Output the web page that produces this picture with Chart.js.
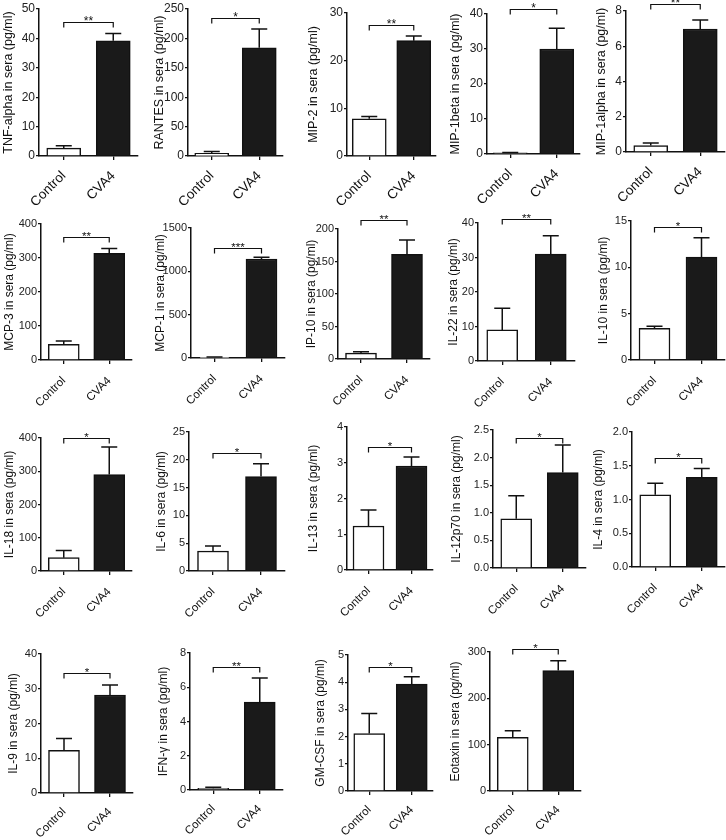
<!DOCTYPE html>
<html>
<head>
<meta charset="utf-8">
<script src="https://cdn.jsdelivr.net/npm/chart.js@4/dist/chart.umd.min.js"></script>
<style>
    body { margin: 0; background: #fff; }
    #figure { position: relative; width: 726px; height: 840px; overflow: hidden; background: #fff; }
    #figure canvas { position: absolute; }
</style>
</head>
<body>
<div id="figure"></div>
<script>
const cytokines = ['TNF-alpha', 'RANTES', 'MIP-2', 'MIP-1beta', 'MIP-1alpha',
    'MCP-3', 'MCP-1', 'IP-10', 'IL-22', 'IL-10',
    'IL-18', 'IL-6', 'IL-13', 'IL-12p70', 'IL-4',
    'IL-9', 'IFN-\u03b3', 'GM-CSF', 'Eotaxin'];
const groups = ['Control', 'CVA4'];

const controlMean = [2.7, 4.5, 7.8, 0.3, 0.37, 46, 8, 9, 9.0, 3.43, 40, 3.6, 1.23, 0.89, 1.07, 12.3, 0.1, 2.11, 116];
const controlSem = [0.8, 3, 0.5, 0.1, 0.14, 10, 3, 2.2, 6.3, 0.2, 22, 0.9, 0.45, 0.42, 0.17, 3.4, 0.06, 0.74, 14];
const cva4Mean = [39.2, 184, 24.2, 30, 6.98, 314, 1142, 161, 31.0, 11.1, 290, 17.0, 2.91, 1.73, 1.33, 28.2, 5.13, 3.93, 260];
const cva4Sem = [2.5, 32, 1.0, 5.9, 0.51, 14, 20, 22, 5.3, 2.1, 83, 2.3, 0.25, 0.5, 0.13, 2.9, 1.41, 0.27, 21];

const yMax = [50, 250, 30, 40, 8, 400, 1500, 200, 40, 15, 400, 25, 4, 2.5, 2.0, 40, 8, 5, 300];
const yStep = [10, 50, 10, 10, 2, 100, 500, 50, 10, 5, 100, 5, 1, 0.5, 0.5, 10, 2, 1, 100];
const stars = ['**', '*', '**', '*', '**', '**', '***', '**', '**', '*', '*', '*', '*', '*', '*', '*', '**', '*', '*'];
const bracketAt = [45.6, 235, 27.5, 41.4, 8.4, 362, 1270, 214, 41.2, 14.3, 400, 21.3, 3.44, 2.36, 1.61, 34.4, 7.16, 4.57, 307];

// page placement of each panel: axis x, axis end x, y of top tick, y of zero, y-title centre x
const panelBox = [
    [39, 138, 9, 156, 9], [188, 283, 9, 156, 160], [347, 436, 13, 156, 314], [487, 580, 14, 154, 456], [626, 725, 11, 152, 602],
    [41, 132, 224, 360, 10], [191, 285, 228, 358, 161], [338, 430, 229, 359, 312], [478, 575, 223, 361, 454], [631, 725, 221, 360, 604],
    [41, 132, 438, 571, 10], [189, 285, 432, 571, 162], [347, 433, 427, 570, 314], [493, 586, 430, 568, 457], [632, 725, 432, 567, 599],
    [41, 133, 654, 793, 14], [190, 283, 653, 790, 164], [348, 433, 655, 791, 321], [490, 581, 652, 791, 456]
];

const INK = '#111';
const WIDE = '"Liberation Sans", Arial, sans-serif';
const NARROW = '"Liberation Sans Narrow", "Liberation Sans", Arial, sans-serif';
const Y_W = 46, TOP_PAD = 22, RIGHT_PAD = 8, X_H = 66;

const annotate = {
    id: 'annotate',
    afterDatasetsDraw(chart, args, opts) {
        const i = opts.panel;
        const ctx = chart.ctx;
        const x = chart.scales.x;
        const y = chart.scales.y;
        const means = [controlMean[i], cva4Mean[i]];
        const sems = [controlSem[i], cva4Sem[i]];
        const cap = 8;

        ctx.save();
        ctx.strokeStyle = INK;
        ctx.lineWidth = 1.5;
        means.forEach((m, k) => {
            const cx = x.getPixelForValue(k);
            const y0 = y.getPixelForValue(m);
            const y1 = y.getPixelForValue(m + sems[k]);
            ctx.beginPath();
            ctx.moveTo(cx, y0);
            ctx.lineTo(cx, y1);
            ctx.moveTo(cx - cap, y1);
            ctx.lineTo(cx + cap, y1);
            ctx.stroke();
        });

        // significance bracket
        const by = Math.round(y.getPixelForValue(bracketAt[i])) + 0.5;
        const x0 = x.getPixelForValue(0);
        const x1 = x.getPixelForValue(1);
        ctx.lineWidth = 1.2;
        ctx.beginPath();
        ctx.moveTo(x0, by + 5);
        ctx.lineTo(x0, by);
        ctx.lineTo(x1, by);
        ctx.lineTo(x1, by + 5);
        ctx.stroke();

        ctx.fillStyle = INK;
        ctx.font = (i < 5 ? 12 : 11.5) + 'px ' + WIDE;
        ctx.textAlign = 'center';
        ctx.textBaseline = 'alphabetic';
        ctx.fillText(stars[i], (x0 + x1) / 2, by + 2.5);
        ctx.restore();
    }
};

function drawPanel(i) {
    const [axisX, axisEnd, yTop, yZero, titleX] = panelBox[i];
    const firstRow = i < 5;
    const canvas = document.createElement('canvas');
    canvas.width = Y_W + (axisEnd - axisX) + RIGHT_PAD;
    canvas.height = TOP_PAD + (yZero - yTop) + X_H;
    canvas.style.left = (axisX - Y_W) + 'px';
    canvas.style.top = (yTop - TOP_PAD) + 'px';
    document.getElementById('figure').appendChild(canvas);

    const tickFont = firstRow ? { family: WIDE, size: 12 } : { family: NARROW, size: 11 };
    const labelFont = firstRow ? { family: WIDE, size: 13.5 } : { family: WIDE, size: 11.5 };
    const titleSize = firstRow ? 12.5 : 12;
    const titlePad = titleX - (axisX - Y_W) - titleSize * 0.6;
    const decimals = yStep[i] < 1 ? 1 : 0;

    new Chart(canvas, {
        type: 'bar',
        data: {
            labels: groups,
            datasets: [{
                data: [controlMean[i], cva4Mean[i]],
                backgroundColor: ['#ffffff', '#1a1a1a'],
                borderColor: INK,
                borderWidth: 1.5,
                barThickness: firstRow ? 34 : 31
            }]
        },
        options: {
            responsive: false,
            animation: false,
            layout: { padding: { left: 0, top: TOP_PAD, right: RIGHT_PAD, bottom: 0 } },
            plugins: {
                legend: { display: false },
                tooltip: { enabled: false },
                annotate: { panel: i }
            },
            scales: {
                x: {
                    type: 'category',
                    offset: true,
                    grid: { offset: false, drawOnChartArea: false, drawTicks: true, tickLength: 4, color: INK, lineWidth: 1.3 },
                    border: { display: true, color: INK, width: 1.5 },
                    ticks: { maxRotation: 45, minRotation: 45, autoSkip: false, padding: firstRow ? 8 : (i < 15 ? 10 : 8), color: INK, font: labelFont },
                    afterFit(scale) { scale.height = X_H; }
                },
                y: {
                    min: 0,
                    max: yMax[i],
                    grid: { drawOnChartArea: false, drawTicks: true, tickLength: 3, color: INK, lineWidth: 1.3 },
                    border: { display: true, color: INK, width: 1.5 },
                    ticks: {
                        stepSize: yStep[i],
                        padding: 1,
                        color: '#222',
                        font: tickFont,
                        callback: v => Number(v).toFixed(decimals)
                    },
                    title: {
                        display: true,
                        text: cytokines[i] + ' in sera (pg/ml)',
                        color: INK,
                        font: { family: WIDE, size: titleSize },
                        padding: { top: titlePad, bottom: 0 }
                    },
                    afterFit(scale) { scale.width = Y_W; }
                }
            }
        },
        plugins: [annotate]
    });
}

document.addEventListener('DOMContentLoaded', () => {
    cytokines.forEach((name, i) => drawPanel(i));
});
</script>
</body>
</html>
